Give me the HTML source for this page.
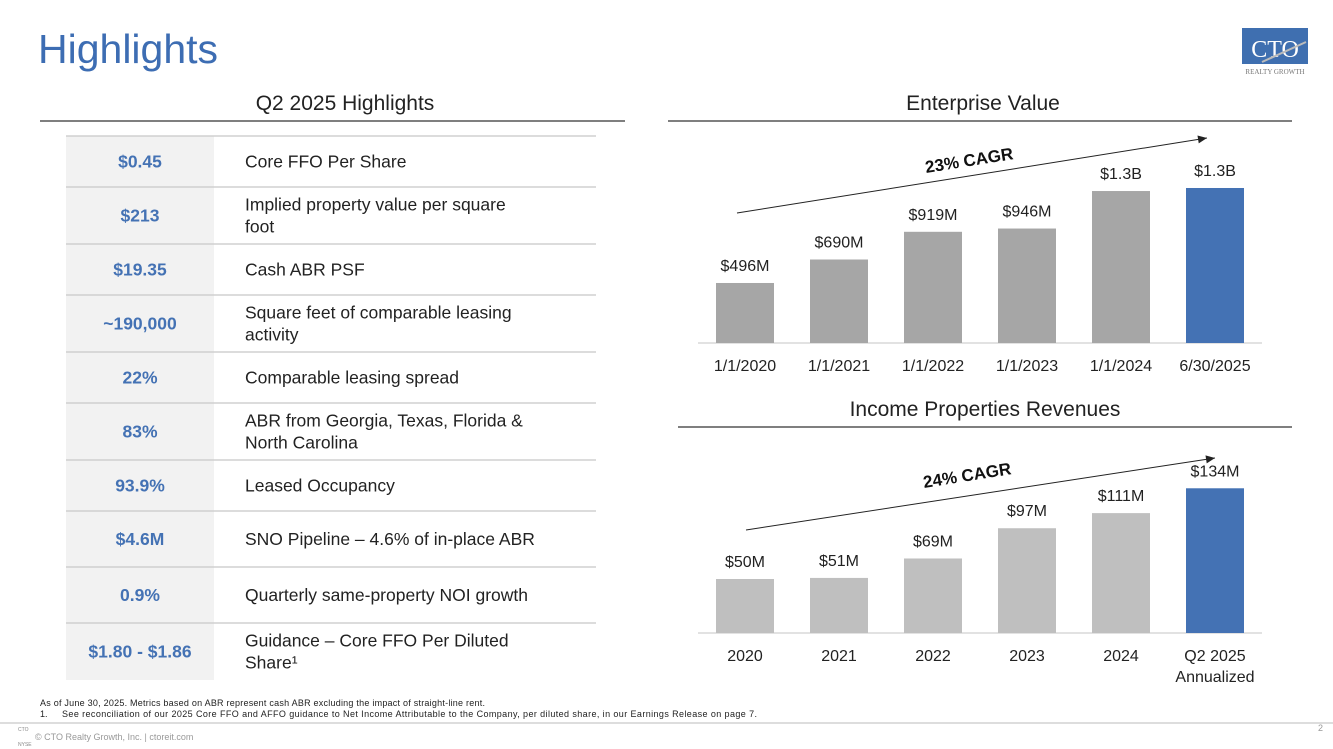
<!DOCTYPE html>
<html><head><meta charset="utf-8"><style>
body{margin:0;width:1333px;height:749px;background:#fff;overflow:hidden;font-family:"Liberation Sans",sans-serif;}
svg{display:block}
</style></head><body>
<svg id="s" width="1333" height="749" xmlns="http://www.w3.org/2000/svg">
<text x="38" y="63" font-size="41" fill="#3d6db3">Highlights</text>
<g>
<rect x="1242" y="28" width="66" height="36" fill="#3f6fb0"/>
<text x="1275" y="57" font-size="24" font-family="Liberation Serif,serif" fill="#fff" text-anchor="middle">CTO</text>
<line x1="1262" y1="62" x2="1306" y2="42" stroke="#bbb" stroke-width="2"/>
<text x="1275" y="74" font-size="7" font-family="Liberation Serif,serif" fill="#777" text-anchor="middle">REALTY GROWTH</text>
</g>
<text x="345" y="110" font-size="21" fill="#222" text-anchor="middle">Q2 2025 Highlights</text>
<line x1="40" y1="121" x2="625" y2="121" stroke="#555" stroke-width="1.5"/>
<g id="tbl"></g>
<text x="983" y="110" font-size="21" fill="#222" text-anchor="middle">Enterprise Value</text>
<line x1="668" y1="121" x2="1292" y2="121" stroke="#555" stroke-width="1.5"/>
<g id="ev"></g>
<text x="985" y="416" font-size="21" fill="#222" text-anchor="middle">Income Properties Revenues</text>
<line x1="678" y1="427" x2="1292" y2="427" stroke="#555" stroke-width="1.5"/>
<g id="rv"></g>
<text x="40" y="706" font-size="9" fill="#222" textLength="445">As of June 30, 2025. Metrics based on ABR represent cash ABR excluding the impact of straight-line rent.</text>
<text x="40" y="717" font-size="9" fill="#222">1.</text>
<text x="62" y="717" font-size="9" fill="#222" textLength="695">See reconciliation of our 2025 Core FFO and AFFO guidance to Net Income Attributable to the Company, per diluted share, in our Earnings Release on page 7.</text>
<line x1="0" y1="723" x2="1333" y2="723" stroke="#bbb" stroke-width="1"/>
<text x="18" y="731" font-size="5" fill="#888">CTO</text>
<text x="18" y="746" font-size="5" fill="#888">NYSE</text>
<text x="35" y="740" font-size="9" fill="#999">© CTO Realty Growth, Inc. | ctoreit.com</text>
<text x="1318" y="731" font-size="9" fill="#999">2</text>
</svg>
<script>
const NS="http://www.w3.org/2000/svg";
const rowVals=["$0.45","$213","$19.35","~190,000","22%","83%","93.9%","$4.6M","0.9%","$1.80 - $1.86"];
const rowDescs=[["Core FFO Per Share"],["Implied property value per square","foot"],["Cash ABR PSF"],["Square feet of comparable leasing","activity"],["Comparable leasing spread"],["ABR from Georgia, Texas, Florida &","North Carolina"],["Leased Occupancy"],["SNO Pipeline – 4.6% of in-place ABR"],["Quarterly same-property NOI growth"],["Guidance – Core FFO Per Diluted","Share¹"]];
const rowEdges=[136,187,244,295,352,403,460,511,567,623,680];
const evCats=["1/1/2020","1/1/2021","1/1/2022","1/1/2023","1/1/2024","6/30/2025"];
const evVals=[496,690,919,946,1256,1281];
const evLabels=["$496M","$690M","$919M","$946M","$1.3B","$1.3B"];
const rvCats=["2020","2021","2022","2023","2024","Q2 2025"];
const rvVals=[50,51,69,97,111,134];
const rvLabels=["$50M","$51M","$69M","$97M","$111M","$134M"];
function mk(p,t,a,txt){const e=document.createElementNS(NS,t);for(const k in a)e.setAttribute(k,a[k]);if(txt!==undefined)e.textContent=txt;p.appendChild(e);return e;}
const tbl=document.getElementById('tbl');
mk(tbl,'rect',{x:66,y:136,width:148,height:544,fill:'#f2f2f2'});
rowVals.forEach((v,i)=>{
  const y0=rowEdges[i],y1=rowEdges[i+1],cy=(y0+y1)/2;
  const t=mk(tbl,'text',{x:140,y:cy+6,'font-size':17.5,'font-weight':'bold',fill:'#4472b4','text-anchor':'middle'},v);
  
  
  const d=rowDescs[i];
  d.forEach((ln,j)=>{
    const dt=mk(tbl,'text',{x:245,y:cy+6+(j-(d.length-1)/2)*22,'font-size':17.5,fill:'#222'},ln);
    
    
  });
});
rowEdges.slice(0,10).forEach(y=>mk(tbl,'line',{x1:66,y1:y,x2:596,y2:y,stroke:'#d0d0d0','stroke-width':1.5}));
function chart(g,cats,vals,labels,base,scale,col,a,cagr,cx,cy,ang){
  const x0=745,step=94,w=58;
  mk(g,'line',{x1:698,y1:base,x2:1262,y2:base,stroke:'#d9d9d9','stroke-width':1.5});
  vals.forEach((v,i)=>{
    const x=x0+i*step,h=v*scale;
    const r=mk(g,'rect',{x:x-w/2,y:base-h,width:w,height:h,fill:i===vals.length-1?'#4472b4':col});
    
    
    const l=mk(g,'text',{x:x,y:base-h-12,'font-size':16,fill:'#222','text-anchor':'middle'},labels[i]);
    
    
    const c=mk(g,'text',{x:x,y:base+28,'font-size':16,fill:'#222','text-anchor':'middle'},cats[i]);
    
    
    if(cats[i]==="Q2 2025"){const c2=mk(g,'text',{x:x,y:base+49,'font-size':16,fill:'#222','text-anchor':'middle'},"Annualized");}
  });
  const ar=mk(g,'line',{x1:a[0],y1:a[1],x2:a[2],y2:a[3],stroke:'#222','stroke-width':1});
  
  
  const ang2=Math.atan2(a[3]-a[1],a[2]-a[0]);
  const hx=a[2],hy=a[3],L=9,W=4;
  const p=[[hx,hy],[hx-L*Math.cos(ang2)+W*Math.sin(ang2),hy-L*Math.sin(ang2)-W*Math.cos(ang2)],[hx-L*Math.cos(ang2)-W*Math.sin(ang2),hy-L*Math.sin(ang2)+W*Math.cos(ang2)]];
  mk(g,'polygon',{points:p.map(q=>q.join(',')).join(' '),fill:'#222'});
  const t=mk(g,'text',{x:cx,y:cy,'font-size':17,'font-weight':'bold',fill:'#111','text-anchor':'middle',transform:`rotate(${ang} ${cx} ${cy})`},cagr);
  
  
}
chart(document.getElementById('ev'),evCats,evVals,evLabels,343,0.121,'#a6a6a6',[737,213,1207,138],'23% CAGR',970,166,-9);
chart(document.getElementById('rv'),rvCats,rvVals,rvLabels,633,1.08,'#bfbfbf',[746,530,1215,458],'24% CAGR',968,481,-9);
</script>
</body></html>
